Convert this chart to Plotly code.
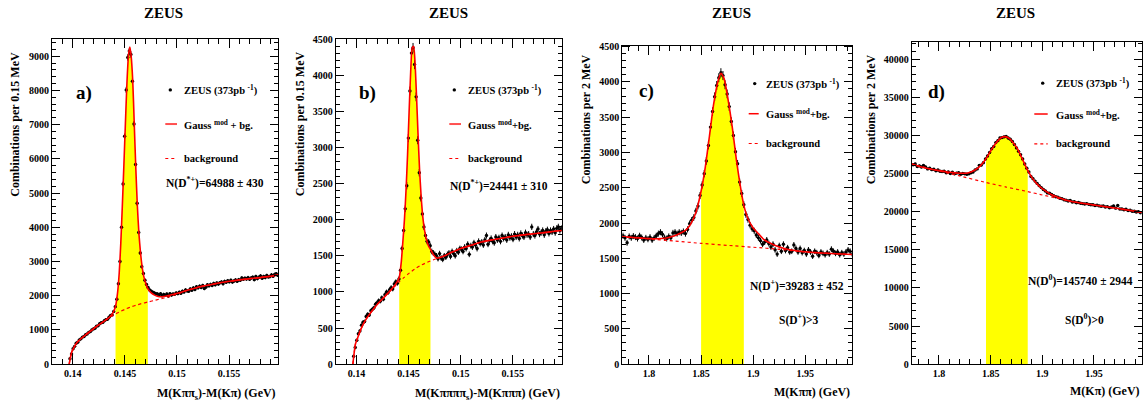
import plotly.graph_objects as go

W, H = 1147, 412
FONT = "Liberation Serif"

# ---------------- Panel a : D*+ -> K pi pi_s ----------------
A_BIN0, A_BINW = 0.139725, 0.00015
A_DATA = [160, 300, 450, 520, 610, 640, 710, 740, 790, 810,
          860, 880, 930, 950, 1000, 1030, 1050, 1110, 1120, 1180,
          1210, 1220, 1270, 1300, 1310, 1370, 1420, 1440, 1540, 1680,
          1900, 2350, 3000, 4000, 5264, 6658, 8014, 8963, 9150, 9050,
          8270, 7020, 5833, 4700, 3850, 3250, 2850, 2650, 2450, 2330,
          2240, 2170, 2130, 2100, 2080, 2060, 2050, 2020, 2060, 2000,
          2040, 2010, 2050, 1990, 2060, 2020, 2050, 2040, 2080, 2060,
          2100, 2070, 2130, 2110, 2170, 2140, 2130, 2200, 2160, 2230,
          2180, 2260, 2230, 2280, 2240, 2300, 2210, 2250, 2320, 2290,
          2330, 2300, 2360, 2320, 2370, 2340, 2380, 2400, 2350, 2420,
          2390, 2440, 2410, 2450, 2400, 2430, 2460, 2420, 2470, 2450,
          2520, 2480, 2510, 2490, 2530, 2480, 2520, 2540, 2470, 2560,
          2500, 2540, 2580, 2510, 2560, 2530, 2590, 2550, 2560, 2610,
          2570, 2620, 2640, 2600]
A_FIT_X = [0.13965, 0.13975, 0.1399, 0.1401, 0.1404, 0.1408, 0.1412, 0.1417, 0.1422, 0.1427,
           0.1432, 0.1436, 0.1439, 0.1441, 0.1443, 0.14445, 0.1446, 0.14475, 0.1449, 0.14505,
           0.1452, 0.14535, 0.14548, 0.1456, 0.14575, 0.1459, 0.14605, 0.1462, 0.14635, 0.1465,
           0.14665, 0.1468, 0.1470, 0.1472, 0.1475, 0.1479, 0.1483, 0.1487, 0.1492, 0.1497,
           0.1502, 0.1509, 0.1517, 0.1525, 0.1532, 0.1540, 0.1547, 0.1555, 0.1562, 0.1570,
           0.1577, 0.1585, 0.1592, 0.1597]
A_FIT_Y = [0, 170, 360, 480, 630, 750, 850, 965, 1085, 1190,
           1300, 1400, 1530, 1690, 2100, 2650, 3500, 4600, 5800, 7050,
           8250, 9050, 9270, 9000, 8300, 7000, 5700, 4600, 3800, 3250,
           2850, 2580, 2360, 2210, 2090, 2010, 1970, 1975, 2005, 2045,
           2085, 2150, 2220, 2280, 2320, 2370, 2410, 2440, 2470, 2500,
           2520, 2550, 2580, 2610]
A_BG_X = [0.13965, 0.13975, 0.1399, 0.1401, 0.1404, 0.1408, 0.1412, 0.1417, 0.1422, 0.1427,
          0.1432, 0.1436, 0.1441, 0.1446, 0.1451, 0.1456, 0.1461, 0.1466, 0.1472, 0.1478,
          0.1483, 0.1490, 0.1497, 0.1502, 0.1509, 0.1517, 0.1525, 0.1532, 0.1540, 0.1547,
          0.1555, 0.1562, 0.1570, 0.1577, 0.1585, 0.1592, 0.1597]
A_BG_Y = [0, 170, 360, 480, 630, 750, 850, 965, 1085, 1190,
          1295, 1375, 1465, 1545, 1615, 1675, 1725, 1770, 1815, 1860,
          1900, 1950, 2015, 2070, 2145, 2220, 2280, 2320, 2370, 2410,
          2440, 2470, 2500, 2520, 2550, 2580, 2610]
A_WINDOW = (0.1441, 0.1472)

# ---------------- Panel b : D*+ -> K pi pi pi pi_s ----------------
B_BIN0, B_BINW = 0.139725, 0.00015
B_DATA = [110, 230, 330, 420, 460, 540, 580, 590, 660, 690,
          680, 740, 760, 780, 830, 850, 880, 870, 920, 900,
          960, 1000, 990, 1030, 1060, 1040, 1110, 1140, 1120, 1180,
          1300, 1600, 1850, 2150, 2469, 3129, 3781, 4306, 4380, 4148,
          3700, 3100, 2650, 2300, 2080, 1900, 1780, 1700, 1690, 1640,
          1560, 1540, 1520, 1500, 1460, 1530, 1470, 1450, 1500, 1480,
          1520, 1540, 1490, 1560, 1530, 1500, 1570, 1550, 1600, 1590,
          1560, 1620, 1600, 1660, 1520, 1640, 1620, 1680, 1650, 1600,
          1700, 1670, 1690, 1650, 1720, 1780, 1660, 1710, 1740, 1700,
          1680, 1760, 1720, 1750, 1700, 1780, 1740, 1760, 1720, 1790,
          1750, 1770, 1730, 1800, 1760, 1790, 1740, 1810, 1780, 1760,
          1820, 1790, 1800, 1760, 1900, 1800, 1780, 1830, 1870, 1800,
          1820, 1850, 1790, 1840, 1860, 1810, 1850, 1830, 1870, 1820,
          1880, 1900, 1850, 1880]
B_FIT_X = [0.13965, 0.13975, 0.1399, 0.1401, 0.1403, 0.1406, 0.1410, 0.1415, 0.1420, 0.1425,
           0.1430, 0.1435, 0.1439, 0.1441, 0.1443, 0.14445, 0.1446, 0.14475, 0.1449, 0.14505,
           0.1452, 0.14535, 0.14548, 0.1456, 0.14575, 0.1459, 0.14605, 0.1462, 0.14635, 0.1465,
           0.1467, 0.1469, 0.1471, 0.1474, 0.1477, 0.1480, 0.1485, 0.1490, 0.1495, 0.1500,
           0.1510, 0.1520, 0.1530, 0.1540, 0.1550, 0.1560, 0.1570, 0.1580, 0.1590, 0.1597]
B_FIT_Y = [0, 130, 280, 360, 440, 540, 640, 740, 830, 905,
           980, 1060, 1140, 1200, 1420, 1700, 2000, 2400, 2900, 3500,
           4050, 4380, 4400, 4220, 3750, 3200, 2700, 2330, 2060, 1880,
           1730, 1640, 1590, 1510, 1468, 1476, 1503, 1540, 1570, 1600,
           1645, 1690, 1720, 1745, 1770, 1790, 1805, 1820, 1840, 1850]
B_BG_X = [0.13965, 0.13975, 0.1399, 0.1401, 0.1403, 0.1406, 0.1410, 0.1415, 0.1420, 0.1425,
          0.1430, 0.1435, 0.1441, 0.1446, 0.1451, 0.1456, 0.1461, 0.1466, 0.1471, 0.1476,
          0.1480, 0.1485, 0.1490, 0.1495, 0.1500, 0.1510, 0.1520, 0.1530, 0.1540, 0.1550,
          0.1560, 0.1570, 0.1580, 0.1590, 0.1597]
B_BG_Y = [0, 130, 280, 360, 440, 540, 640, 740, 830, 905,
          980, 1050, 1140, 1205, 1265, 1318, 1362, 1398, 1428, 1455,
          1472, 1500, 1540, 1570, 1600, 1645, 1690, 1720, 1745, 1770,
          1790, 1805, 1820, 1840, 1850]
B_WINDOW = (0.1441, 0.1471)

# ---------------- Panel c : D+ -> K pi pi ----------------
C_BIN0, C_BINW = 1.775, 0.002
C_DATA = [1820, 1790, 1720, 1810, 1790, 1815, 1800, 1780, 1820, 1795,
          1760, 1790, 1770, 1800, 1760, 1790, 1820, 1850, 1870, 1840,
          1790, 1780, 1810, 1790, 1860, 1870, 1850, 1870, 1860, 1880,
          1850, 1910, 1990, 2040, 2080, 2170, 2240, 2390, 2540, 2700,
          2880, 3100, 3360, 3580, 3790, 3950, 4060, 4130, 4090, 3960,
          3830, 3650, 3440, 3240, 3010, 2840, 2580, 2420, 2260, 2120,
          2050, 1970, 1920, 1890, 1830, 1790, 1750, 1700, 1730, 1760,
          1710, 1660, 1700, 1620, 1560, 1680, 1600, 1700, 1610, 1650,
          1590, 1600, 1690, 1640, 1590, 1640, 1580, 1610, 1560, 1620,
          1590, 1530, 1600, 1580, 1540, 1590, 1570, 1550, 1580, 1560,
          1630, 1600, 1570, 1590, 1550, 1580, 1560, 1590, 1620, 1600,
          1560]
C_FIT_X = [1.774, 1.78, 1.79, 1.80, 1.806, 1.812, 1.818, 1.824, 1.83, 1.835,
           1.84, 1.845, 1.85, 1.854, 1.858, 1.862, 1.866, 1.869, 1.872, 1.876,
           1.88, 1.884, 1.888, 1.891, 1.895, 1.90, 1.905, 1.91, 1.915, 1.92,
           1.93, 1.94, 1.95, 1.96, 1.97, 1.98, 1.99, 1.996]
C_FIT_Y = [1805, 1800, 1790, 1781, 1778, 1780, 1792, 1815, 1855, 1895,
           1985, 2150, 2450, 2790, 3230, 3680, 4000, 4124, 4050, 3740,
           3350, 2880, 2490, 2250, 2060, 1930, 1850, 1770, 1725, 1690,
           1638, 1610, 1592, 1580, 1572, 1565, 1558, 1554]
C_BG_X = [1.774, 1.80, 1.825, 1.85, 1.875, 1.90, 1.925, 1.95, 1.975, 1.996]
C_BG_Y = [1805, 1776, 1744, 1712, 1684, 1657, 1628, 1590, 1568, 1553]
C_WINDOW = (1.85, 1.891)

# ---------------- Panel d : D0 -> K pi ----------------
D_BIN0, D_BINW = 1.775, 0.002
D_DATA = [26150, 26250, 25900, 26000, 25850, 26050, 25850, 25600, 25700, 25500,
          25550, 25350, 25450, 25300, 25250, 25300, 25100, 25200, 25000, 25150,
          24950, 25050, 25100, 24900, 25000, 24950, 24900, 24950, 25100, 25200,
          25450, 25600, 26050, 26100, 26400, 26900, 27300, 27750, 28250, 28550,
          29050, 29300, 29650, 29700, 29800, 29850, 29650, 29500, 29200, 28800,
          28350, 27900, 27450, 26900, 26250, 25700, 25200, 24600, 24300, 24000,
          23700, 23400, 23150, 22900, 22700, 22450, 22400, 22250, 22100, 21950,
          21900, 21750, 21700, 21550, 21500, 21400, 21450, 21250, 21300, 21150,
          21200, 21100, 21050, 21000, 21050, 20950, 20900, 20900, 20800, 20850,
          20750, 20700, 20750, 20600, 20650, 20500, 20600, 20750, 20450, 20800,
          20350, 20350, 20250, 20300, 20150, 20200, 20050, 20050, 19950, 20000,
          19850]
D_FIT_X = [1.773, 1.78, 1.79, 1.80, 1.81, 1.82, 1.828, 1.834, 1.84, 1.8455,
           1.85, 1.855, 1.86, 1.864, 1.868, 1.872, 1.876, 1.88, 1.8859, 1.89,
           1.895, 1.90, 1.908, 1.915, 1.925, 1.935, 1.945, 1.955, 1.965, 1.975,
           1.985, 1.996]
D_FIT_Y = [26270, 25960, 25620, 25370, 25150, 25030, 25060, 25380, 26000, 26930,
           27950, 28950, 29680, 29830, 29600, 29000, 28230, 27100, 25400, 24450,
           23600, 23000, 22280, 21870, 21420, 21170, 20960, 20770, 20560, 20370,
           20150, 19900]
D_BG_X = [1.773, 1.80, 1.82, 1.8455, 1.865, 1.8859, 1.90, 1.915, 1.93, 1.945,
          1.955, 1.965, 1.975, 1.985, 1.996]
D_BG_Y = [26250, 25330, 24680, 23820, 23220, 22620, 22180, 21740, 21290, 20960,
          20770, 20560, 20370, 20150, 19900]
D_WINDOW = (1.8455, 1.8859)

# ---------------- Texts ----------------
TITLE = "ZEUS"
LABELS = ["a)", "b)", "c)", "d)"]
Y_TITLES = ["Combinations per 0.15 MeV", "Combinations per 0.15 MeV",
            "Combinations per 2 MeV", "Combinations per 2 MeV"]
X_TITLES = ["M(Kππ<sub>s</sub>)-M(Kπ) (GeV)", "M(Kππππ<sub>s</sub>)-M(Kπππ) (GeV)",
            "M(Kππ) (GeV)", "M(Kπ) (GeV)"]
LEG_DATA = "ZEUS (373pb <sup>-1</sup>)"
LEG_FIT = ["Gauss <sup>mod</sup> + bg.", "Gauss <sup>mod</sup>+bg.",
           "Gauss <sup>mod</sup>+bg.", "Gauss <sup>mod</sup>+bg."]
LEG_BG = "background"
N_TEXT = ["N(D<sup>*+</sup>)=64988 ± 430", "N(D<sup>*+</sup>)=24441 ± 310",
          "N(D<sup>+</sup>)=39283 ± 452", "N(D<sup>0</sup>)=145740 ± 2944"]
S_TEXT = [None, None, "S(D<sup>+</sup>)>3", "S(D<sup>0</sup>)>0"]

# ---------------- Layout geometry (pixels) ----------------
PANELS = [
    dict(data=A_DATA, bin0=A_BIN0, binw=A_BINW, fx=A_FIT_X, fy=A_FIT_Y, bx=A_BG_X, by=A_BG_Y,
         win=A_WINDOW, xpx=(52, 278), ytop=35, xr=[0.138, 0.1597], yr=[0, 9500],
         xt0=0.14, xdt=0.005, xmdt=0.001, ydt=1000, ymdt=200,
         title_x=163, ytit_x=15.5, ytit_top=46, lab=(84, 90),
         dot=(170.3, 87.3), ltxt=182, line_y=122.3, line_x=(165.3, 177), dash_y=157.7,
         n_pos=(215, 182.7), s_pos=None, xtit_y=400),
    dict(data=B_DATA, bin0=B_BIN0, binw=B_BINW, fx=B_FIT_X, fy=B_FIT_Y, bx=B_BG_X, by=B_BG_Y,
         win=B_WINDOW, xpx=(335.7, 561.7), ytop=35, xr=[0.138, 0.1597], yr=[0, 4500],
         xt0=0.14, xdt=0.005, xmdt=0.001, ydt=500, ymdt=100,
         title_x=448, ytit_x=300, ytit_top=46, lab=(367.5, 90),
         dot=(454.3, 87.3), ltxt=466, line_y=122.3, line_x=(449.3, 461), dash_y=157.7,
         n_pos=(499, 185), s_pos=None, xtit_y=400),
    dict(data=C_DATA, bin0=C_BIN0, binw=C_BINW, fx=C_FIT_X, fy=C_FIT_Y, bx=C_BG_X, by=C_BG_Y,
         win=C_WINDOW, xpx=(622.3, 851.7), ytop=41.7, xr=[1.7744, 1.9945], yr=[0, 4515],
         xt0=1.8, xdt=0.05, xmdt=0.01, ydt=500, ymdt=100,
         title_x=731.7, ytit_x=585.5, ytit_top=49, lab=(646, 88),
         dot=(754.7, 80.7), ltxt=763.7, line_y=111.7, line_x=(748.7, 758.7), dash_y=142.3,
         n_pos=(797, 288.3), s_pos=(798.7, 323.3), xtit_y=398),
    dict(data=D_DATA, bin0=D_BIN0, binw=D_BINW, fx=D_FIT_X, fy=D_FIT_Y, bx=D_BG_X, by=D_BG_Y,
         win=D_WINDOW, xpx=(911.7, 1141.7), ytop=38.3, xr=[1.7736, 1.9962], yr=[0, 42200],
         xt0=1.8, xdt=0.05, xmdt=0.01, ydt=5000, ymdt=1000,
         title_x=1015, ytit_x=870.5, ytit_top=49, lab=(936, 89.5),
         dot=(1042.7, 80.3), ltxt=1054.3, line_y=112, line_x=(1034.3, 1047.7), dash_y=142.7,
         n_pos=(1080.7, 283), s_pos=(1084, 323), xtit_y=397),
]
Y_BOTTOM = 369
TITLE_Y = 8


def fx_(x):
    return x / W


def fy_(y):
    return 1 - y / H


fig = go.Figure()
annotations = []
shapes = []

for k, p in enumerate(PANELS):
    sfx = "" if k == 0 else str(k + 1)
    xa, ya = "x" + sfx, "y" + sfx

    # yellow signal window under the fit
    wx = [x for x in p["fx"] if p["win"][0] <= x <= p["win"][1]]
    wy = [y for x, y in zip(p["fx"], p["fy"]) if p["win"][0] <= x <= p["win"][1]]
    fig.add_trace(go.Scatter(x=wx, y=wy, xaxis=xa, yaxis=ya, mode="lines", fill="tozeroy",
                             fillcolor="#ffff00", line=dict(width=0, shape="spline", smoothing=0.6),
                             hoverinfo="skip", showlegend=False))
    # data points
    fig.add_trace(go.Scatter(x0=p["bin0"], dx=p["binw"], y=p["data"], xaxis=xa, yaxis=ya,
                             mode="markers", marker=dict(size=3.4, color="black"),
                             error_y=dict(type="sqrt", visible=True, thickness=1, width=0, color="black"),
                             showlegend=False))
    # background
    fig.add_trace(go.Scatter(x=p["bx"], y=p["by"], xaxis=xa, yaxis=ya, mode="lines",
                             line=dict(color="#ff0000", width=1.2, dash="dot", shape="spline", smoothing=0.6),
                             showlegend=False))
    # fit
    fig.add_trace(go.Scatter(x=p["fx"], y=p["fy"], xaxis=xa, yaxis=ya, mode="lines",
                             line=dict(color="#ff0000", width=1.6, shape="spline", smoothing=0.6),
                             showlegend=False))

    tickfont = dict(family=FONT, size=10, color="black", weight="bold")
    common = dict(showline=True, linecolor="black", linewidth=1, mirror="allticks",
                  ticks="inside", tickcolor="black", tickwidth=1, showgrid=False, zeroline=False,
                  tickfont=tickfont)
    xaxis = dict(common, domain=[fx_(p["xpx"][0]), fx_(p["xpx"][1])], range=p["xr"], anchor=ya,
                 tick0=p["xt0"], dtick=p["xdt"], ticklen=9,
                 minor=dict(ticks="inside", ticklen=5, tick0=p["xt0"], dtick=p["xmdt"],
                            tickcolor="black", tickwidth=1, showgrid=False))
    yaxis = dict(common, domain=[fy_(Y_BOTTOM), fy_(p["ytop"])], range=p["yr"], anchor=xa,
                 tick0=0, dtick=p["ydt"], ticklen=8, tickformat="d", exponentformat="none",
                 minor=dict(ticks="inside", ticklen=4, tick0=0, dtick=p["ymdt"],
                            tickcolor="black", tickwidth=1, showgrid=False))
    fig.update_layout(**{"xaxis" + sfx: xaxis, "yaxis" + sfx: yaxis})

    def ann(text, x, y, size, xanchor="center", yanchor="middle", angle=0):
        annotations.append(dict(text=text, x=fx_(x), y=fy_(y), xref="paper",
                                yref="paper", showarrow=False, xanchor=xanchor, yanchor=yanchor,
                                textangle=angle,
                                font=dict(family=FONT, size=size, color="black", weight="bold")))

    ann(TITLE, p["title_x"], TITLE_Y, 15)
    ann(Y_TITLES[k], p["ytit_x"], p["ytit_top"], 12, yanchor="top", angle=-90)
    ann(X_TITLES[k], p["xpx"][1], p["xtit_y"], 12, xanchor="right")
    ann(LABELS[k], p["lab"][0], p["lab"][1], 19)
    ann(LEG_DATA, p["ltxt"], p["dot"][1], 10.5, xanchor="left")
    ann(LEG_FIT[k], p["ltxt"], p["line_y"], 10.5, xanchor="left")
    ann(LEG_BG, p["ltxt"], p["dash_y"], 10.5, xanchor="left")
    ann(N_TEXT[k], p["n_pos"][0], p["n_pos"][1], 11.5)
    if S_TEXT[k]:
        ann(S_TEXT[k], p["s_pos"][0], p["s_pos"][1], 11.5)

    r = 1.7
    shapes.append(dict(type="circle", xref="paper", yref="paper",
                       x0=fx_(p["dot"][0] - r), x1=fx_(p["dot"][0] + r),
                       y0=fy_(p["dot"][1] + r), y1=fy_(p["dot"][1] - r),
                       fillcolor="black", line=dict(width=0)))
    lc = "#ff5050" if k < 2 else "#ff0000"
    lw = 2 if k < 2 else 1.5
    shapes.append(dict(type="line", xref="paper", yref="paper",
                       x0=fx_(p["line_x"][0]), x1=fx_(p["line_x"][1]),
                       y0=fy_(p["line_y"]), y1=fy_(p["line_y"]),
                       line=dict(color=lc, width=lw)))
    shapes.append(dict(type="line", xref="paper", yref="paper",
                       x0=fx_(p["line_x"][0]), x1=fx_(p["line_x"][1]),
                       y0=fy_(p["dash_y"]), y1=fy_(p["dash_y"]),
                       line=dict(color="#ff0000", width=1.2, dash="dot")))

fig.update_layout(width=W, height=H, margin=dict(l=0, r=0, t=0, b=0),
                  paper_bgcolor="white", plot_bgcolor="white",
                  annotations=annotations, shapes=shapes, showlegend=False,
                  font=dict(family=FONT, color="black"))

fig.write_html("out.html", config={"displayModeBar": False},
               post_script="document.body.style.margin='0px';document.body.style.padding='0px';")
